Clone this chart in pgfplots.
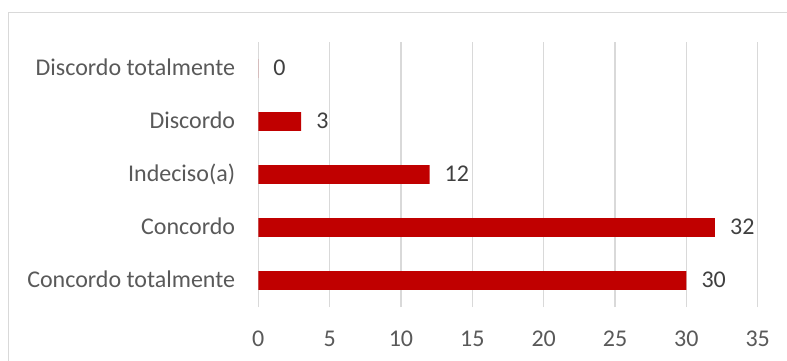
\documentclass[border=0pt]{standalone}
\usepackage{pgfplots}
\pgfplotsset{compat=1.18}
\usepackage{fontspec}
\setmainfont{Carlito}
\definecolor{barred}{HTML}{C00000}
\definecolor{ticktext}{HTML}{595959}
\definecolor{valtext}{HTML}{404040}
\definecolor{gridgray}{HTML}{D9D9D9}
\begin{document}
\fontsize{24}{28}\selectfont
\begin{tikzpicture}
\useasboundingbox (0pt,0pt) rectangle (787pt,-361pt);
\draw[gridgray, line width=1.3pt] (8.5pt,-362pt) -- (8.5pt,-12.5pt) -- (788pt,-12.5pt);
\begin{axis}[
  at={(258.3pt,-307pt)}, anchor=south west,
  scale only axis, width=499.4pt, height=265pt,
  xbar, bar width=18.7pt,
  xmin=0, xmax=35, ymin=-0.5, ymax=4.5,
  xtick={0,5,...,35}, ytick={0,1,2,3,4},
  yticklabels={Concordo totalmente, Concordo, Indeciso(a), Discordo, Discordo totalmente},
  axis line style={draw=none},
  major tick length=0pt,
  xmajorgrids, grid style={gridgray, line width=1.3pt},
  /pgf/number format/assume math mode=true,
  tick label style={font=\fontsize{24}{28}\selectfont, text=ticktext},
  xticklabel style={anchor=base, inner sep=0pt, yshift=-39.7pt},
  yticklabel style={anchor=base east, inner sep=0pt, xshift=-23pt, yshift=-7.4pt},
  nodes near coords,
  nodes near coords style={anchor=base west, inner sep=0pt, xshift=15pt, yshift=-7pt, text=valtext, font=\fontsize{24}{28}\selectfont},
  clip=false,
]
\addplot[fill=barred, draw=none] coordinates {(30,0) (32,1) (12,2) (3,3) (0,4)};
\end{axis}
\end{tikzpicture}
\end{document}
